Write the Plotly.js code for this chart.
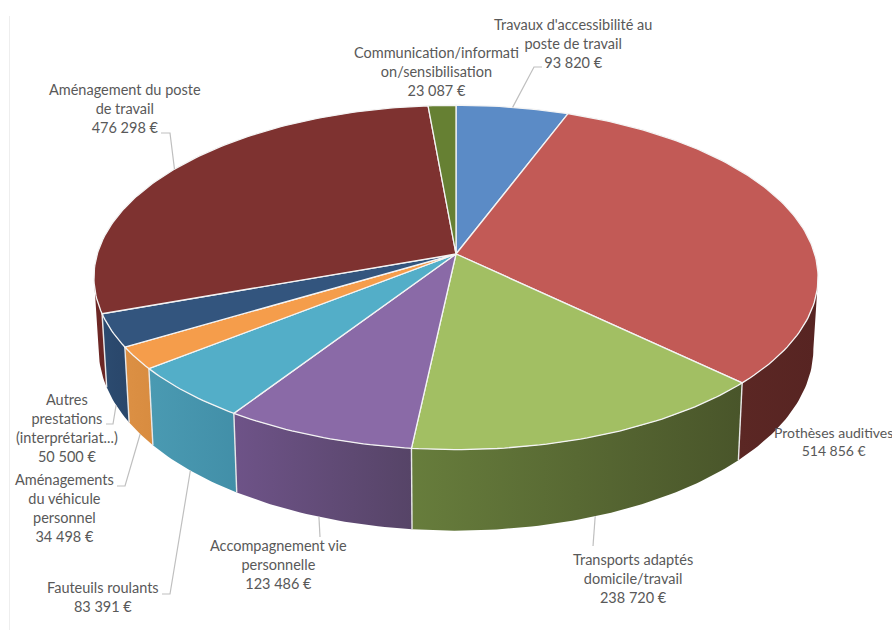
<!DOCTYPE html>
<html lang="fr">
<head>
<meta charset="utf-8">
<script src="https://cdn.plot.ly/plotly-3.0.1.min.js"></script>
<style>html,body{margin:0;padding:0;background:#fff;overflow:hidden}#chart{width:892px;height:630px}</style>
</head>
<body>
<div id="chart"></div>
<script>
// ---- data ----
const categories = [
  "Travaux d'accessibilité au<br>poste de travail",
  "Prothèses auditives",
  "Transports adaptés<br>domicile/travail",
  "Accompagnement vie<br>personnelle",
  "Fauteuils roulants",
  "Aménagements<br>du véhicule<br>personnel",
  "Autres<br>prestations<br>(interprétariat...)",
  "Aménagement du poste<br>de travail",
  "Communication/informati<br>on/sensibilisation"
];
const values = [93820, 514856, 238720, 123486, 83391, 34498, 50500, 476298, 23087];
const valueLabels = ["93 820 €","514 856 €","238 720 €","123 486 €","83 391 €","34 498 €","50 500 €","476 298 €","23 087 €"];

// ---- styles ----
const topColors  = ["#5b8bc6","#c25a56","#a2bf63","#8a6aa7","#53aec8","#f59d4b","#33557e","#7e3230","#668033"];
const wallLeft   = ["#44699a","#5b2724","#677d3c","#6e5388","#4a9ab2","#dc9044","#2c4b70","#6e2826","#4f6428"];
const wallRight  = ["#44699a","#572422","#49552a","#564467","#428fa8","#d88c40","#29466a","#6a2624","#4f6428"];
const labelSize  = [14.5, 14, 14.5, 14.5, 14.5, 14.5, 14.5, 14.5, 14.5];

// ---- label placement (pixel layout of the text) ----
const labelX = [573, 833.5, 633, 278, 103, 64, 67, 125, 436];
const labelY = [43, 441, 578, 564, 597, 508, 428, 108, 71];
// leader elbows, listed per slice; the start is computed from the slice's mid angle
const leaderElbows = [
  [[534,67],[542,67]],
  null,
  [[593,546]],
  [[320,537]],
  [[170,594],[162,594]],
  [[125,486],[117,486]],
  [[113,424],[106,424]],
  [[170,133],[161,133]],
  null
];
const leaderOnBottomRing = [false,false,true,true,true,true,true,false,false];

// ---- projection of the tilted disc ----
const CX = 456, CY = 254, SX = 358.7, SY = 169, K = 0.136;
const WALL_SX = 0.987, WALL_SY = 1.055, WALL_DY = 70.3;
// the wall is visible between the two silhouette tangents of the disc
const WALL_FROM = Math.acos(-K) * 180 / Math.PI, WALL_TO = 360 - WALL_FROM;
function topPoint(deg) {
  const t = deg * Math.PI / 180, u = Math.sin(t), v = -Math.cos(t), w = 1 - K * v;
  return [CX + SX * u / w, CY + SY * v / w];
}
function bottomPoint(deg) {
  const p = topPoint(deg);
  return [CX + (p[0] - CX) * WALL_SX, CY + (p[1] - CY) * WALL_SY + WALL_DY];
}
function arc(fn, a, b) {
  const n = Math.max(2, Math.ceil(Math.abs(b - a))), out = [];
  for (let i = 0; i <= n; i++) out.push(fn(a + (b - a) * i / n));
  return out;
}

const total = values.reduce((s, v) => s + v, 0);
const edges = [0];
values.forEach(v => edges.push(edges[edges.length - 1] + v / total * 360));

const traces = [];
const base = {type: 'scatter', mode: 'lines', hoverinfo: 'skip', showlegend: false};

// side walls
values.forEach((_, i) => {
  const a = Math.max(edges[i], WALL_FROM), b = Math.min(edges[i + 1], WALL_TO);
  if (b <= a) return;
  const pts = arc(topPoint, a, b).concat(arc(bottomPoint, b, a));
  traces.push(Object.assign({}, base, {
    x: pts.map(p => p[0]), y: pts.map(p => p[1]),
    fill: 'toself', line: {width: 0, color: wallLeft[i]},
    fillgradient: {type: 'horizontal', colorscale: [[0, wallLeft[i]], [1, wallRight[i]]]}
  }));
});
// white edges between the walls
edges.forEach(e => {
  if (e <= WALL_FROM || e >= WALL_TO) return;
  const p = topPoint(e), q = bottomPoint(e);
  traces.push(Object.assign({}, base, {x: [p[0], q[0]], y: [p[1], q[1]], line: {color: '#e8e8e8', width: 1.4}}));
});
// top faces
values.forEach((_, i) => {
  const pts = [[CX, CY]].concat(arc(topPoint, edges[i], edges[i + 1]), [[CX, CY]]);
  traces.push(Object.assign({}, base, {
    x: pts.map(p => p[0]), y: pts.map(p => p[1]),
    fill: 'toself', fillcolor: topColors[i], line: {color: '#f4f4f4', width: 1.3}
  }));
});
// leader lines
leaderElbows.forEach((elbow, i) => {
  if (!elbow) return;
  const mid = (edges[i] + edges[i + 1]) / 2;
  const start = (leaderOnBottomRing[i] ? bottomPoint : topPoint)(mid);
  const pts = [start].concat(elbow);
  traces.push(Object.assign({}, base, {x: pts.map(p => p[0]), y: pts.map(p => p[1]), line: {color: '#bfbfbf', width: 1.2}}));
});

const annotations = categories.map((c, i) => ({
  x: labelX[i], y: labelY[i], xref: 'x', yref: 'y',
  text: c + '<br>' + valueLabels[i],
  showarrow: false, align: 'center', xanchor: 'center', yanchor: 'middle',
  font: {family: 'Lato, Carlito, sans-serif', size: labelSize[i], color: '#595959'}
}));

const layout = {
  width: 892, height: 630,
  margin: {l: 0, r: 0, t: 0, b: 0},
  paper_bgcolor: '#ffffff', plot_bgcolor: '#ffffff',
  showlegend: false,
  xaxis: {range: [0, 892], visible: false, fixedrange: true},
  yaxis: {range: [630, 0], visible: false, fixedrange: true},
  annotations,
  shapes: [{type: 'line', xref: 'x', yref: 'y', x0: 9.5, x1: 9.5, y0: 16, y1: 630, line: {color: '#eeeeee', width: 1}}]
};
Plotly.newPlot('chart', traces, layout, {displayModeBar: false, staticPlot: true});
</script>
</body>
</html>
